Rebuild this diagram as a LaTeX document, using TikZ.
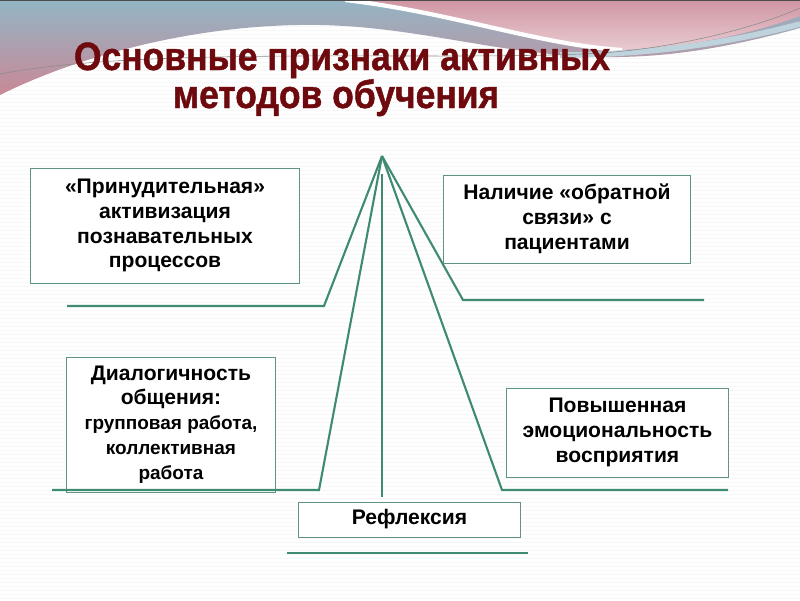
\documentclass[tikz,border=0pt]{standalone}
\usepackage{fontspec}
\setmainfont{Liberation Sans}
\newfontfamily\headfam[FakeStretch=0.9,BoldFeatures={FakeBold=1.2}]{Liberation Sans}
\definecolor{ridgegreen}{HTML}{3F8B72}
\definecolor{boxline}{HTML}{5F9387}
\definecolor{titlered}{HTML}{6E0A0E}
\definecolor{bandblue}{HTML}{93B5C5}
\definecolor{bandpink}{HTML}{C98896}
\definecolor{rosetop}{HTML}{CF96A3}
\definecolor{rosebot}{HTML}{E9CBD1}
\newcommand\signfont{\bfseries\fontsize{15}{17.7}\selectfont}
\newcommand\signsmall{\fontsize{13.5}{17}\selectfont}
\newcommand\slidetitlefont{\headfam\bfseries\fontsize{28}{30}\selectfont}
\begin{document}
\begin{tikzpicture}[x=0.025cm,y=-0.025cm,sign/.style={draw=boxline,line width=0.7pt,fill=white,align=center,font=\signfont,inner sep=0pt},ridge/.style={draw=ridgegreen,line width=1.5pt},heading/.style={anchor=base,text=titlered,font=\slidetitlefont}]
\useasboundingbox (0,0) rectangle (800,600);

%BACKGROUND
\fill[white] (0,0) rectangle (800,600);
\foreach \y in {2,6,...,598} \draw[black!3,line width=0.3pt] (0,\y) -- (800,\y);

%BANNER
\shade[top color=bandblue,bottom color=bandpink] (0,0) -- (800,0) -- (800,28) .. controls (720,50) and (660,58) .. (600,57) .. controls (500,55) and (420,27) .. (320,25) .. controls (200,23) and (80,55) .. (0,95) -- cycle;
\shade[top color=rosetop,bottom color=rosebot] (345,0) -- (800,0) -- (800,16) .. controls (740,38) and (680,47) .. (622,50) .. controls (540,45) and (450,12) .. (345,0) -- cycle;
\draw[white,line width=3pt] (345,0) .. controls (450,12) and (540,45) .. (622,50);
\draw[bandblue!60,line width=4pt] (560,55) .. controls (660,55) and (740,40) .. (800,24);
\draw[black!45,line width=0.4pt] (0,74) .. controls (150,45) and (450,62) .. (600,53) .. controls (680,48) and (760,26) .. (800,8);
\draw[black!70,line width=1pt] (0,0.5) -- (800,0.5);

%TITLE
\node[heading] (title1) at (342,70) {Основные признаки активных};
\node[heading] (title2) at (336,108) {методов обучения};

%BOXES
\node[sign,minimum width=6.7cm,minimum height=2.875cm] (forced) at (165,225.5) {«Принудительная»\\активизация\\познавательных\\процессов};
\node[sign,minimum width=6.15cm,minimum height=2.2cm] (feedback) at (567,219) {Наличие «обратной\\связи» с\\пациентами};
\node[sign,minimum width=5.2cm,minimum height=3.375cm] (dialog) at (171,424.5) {Диалогичность\\общения:\\\signsmall групповая работа,\\\signsmall коллективная\\\signsmall работа};
\node[sign,minimum width=5.525cm,minimum height=2.225cm] (emotion) at (617.5,432.5) {Повышенная\\эмоциональность\\восприятия};
\node[sign,minimum width=5.525cm,minimum height=0.875cm] (reflex) at (409.5,519.5) {Рефлексия};

%RIDGE
\coordinate (apex) at (382,156);
\coordinate (kneeA) at (324,306);
\coordinate (endA) at (67,306);
\coordinate (kneeB) at (319,490);
\coordinate (endB) at (52,490);
\coordinate (kneeC) at (463,300);
\coordinate (endC) at (704,300);
\coordinate (kneeD) at (502,490);
\coordinate (endD) at (728,490);
\coordinate (stemtop) at (382,174);
\coordinate (stembot) at (382,497);
\coordinate (baseL) at (287,553);
\coordinate (baseR) at (528,553);
\draw[ridge] (endA) -- (kneeA) -- (apex);
\draw[ridge] (endB) -- (kneeB) -- (apex);
\draw[ridge] (apex) -- (kneeC) -- (endC);
\draw[ridge] (apex) -- (kneeD) -- (endD);
\draw[ridge] (stemtop) -- (stembot);
\draw[ridge] (baseL) -- (baseR);
\end{tikzpicture}
\end{document}
